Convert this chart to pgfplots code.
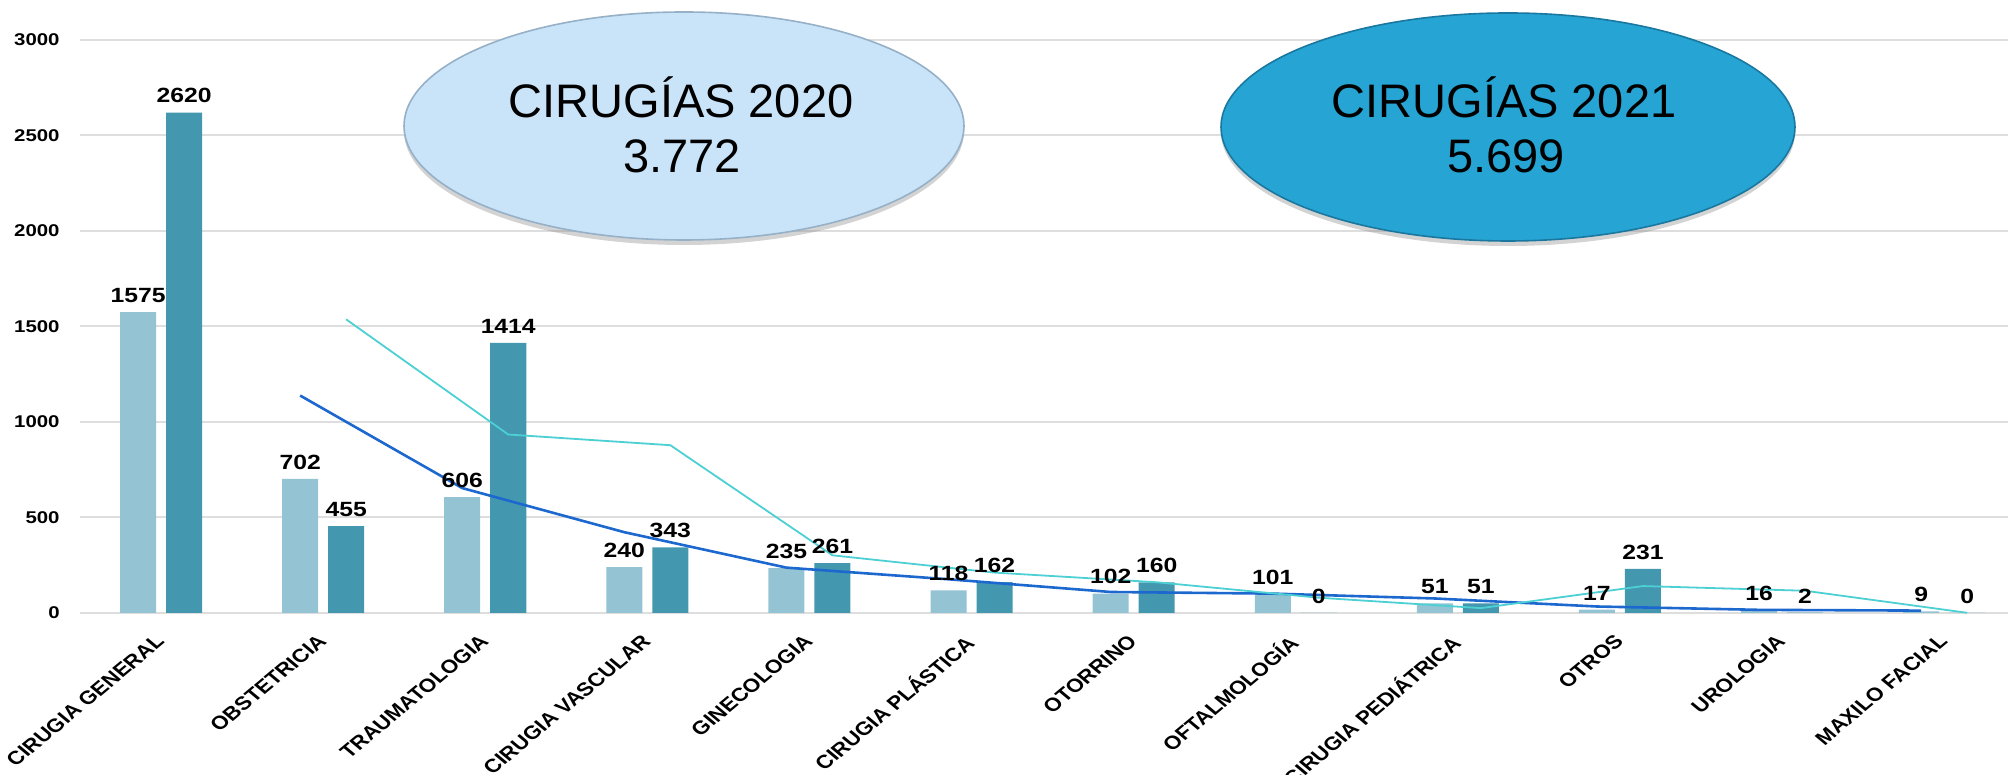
\documentclass[border=0pt]{standalone}
\usepackage{fontspec}
\setmainfont{Liberation Sans}[FakeStretch=1.2]
\newfontfamily\plainfont{Liberation Sans}
\usepackage{graphicx}
\usepackage{pgfplots}
\pgfplotsset{compat=1.18}
\usetikzlibrary{shadows}

\definecolor{bar20}{RGB}{148,195,212}
\definecolor{bar21}{RGB}{67,152,176}
\definecolor{ma20}{RGB}{28,104,206}
\definecolor{ma21}{RGB}{77,208,212}
\definecolor{gridc}{RGB}{222,222,222}
\definecolor{ell20}{RGB}{201,227,248}
\definecolor{ell20e}{RGB}{150,176,200}
\definecolor{ell21}{RGB}{38,164,211}
\definecolor{ell21e}{RGB}{26,120,160}

% rotated 45 deg, then stretched like the source picture
\newcommand\xl[1]{\scalebox{1.2}[1]{\rotatebox{45}{#1}}}

\begin{document}
\begin{tikzpicture}
% page: 2008 x 775 px at 0.5pt per px
\useasboundingbox (0,0) rectangle (1004pt,387.5pt);

\begin{axis}[
  at={(40pt,81pt)}, anchor=south west,
  scale only axis, width=964pt, height=286.5pt,
  xmin=-0.5, xmax=11.394, ymin=0, ymax=3000,
  clip=false,
  axis line style={draw=none},
  tick style={draw=none},
  ymajorgrids, grid style={gridc, line width=1pt},
  ytick={0,500,...,3000},
  xtick={0,...,11},
  xticklabels={\xl{CIRUGIA GENERAL}, \xl{OBSTETRICIA}, \xl{TRAUMATOLOGIA}, \xl{CIRUGIA VASCULAR}, \xl{GINECOLOGIA}, \xl{CIRUGIA PLÁSTICA}, \xl{OTORRINO}, \xl{OFTALMOLOGÍA}, \xl{CIRUGIA PEDIÁTRICA}, \xl{OTROS}, \xl{UROLOGIA}, \xl{MAXILO FACIAL}},
  /pgf/number format/assume math mode=true,
  /pgf/number format/1000 sep={},
  yticklabel style={font=\fontsize{8.5}{10}\selectfont\bfseries, anchor=east, inner sep=0pt, xshift=-10pt},
  xticklabel style={font=\plainfont\fontsize{9.4}{11}\selectfont\bfseries, anchor=north east, inner sep=0pt, xshift=2.5pt, yshift=-10pt},
  every node near coord/.append style={font=\fontsize{10.3}{12}\selectfont\bfseries, anchor=south, inner sep=0pt, yshift=4.5pt},
]
% 2020
\addplot[ybar, bar width=18pt, bar shift=-11.5pt, fill=bar20, draw=none, nodes near coords,
  every node near coord/.append style={xshift=-11.5pt}]
  coordinates {(0,1575) (1,702) (2,606) (3,240) (4,235) (5,118) (6,102) (7,101) (8,51) (9,17) (10,16) (11,9)};
% 2021
\addplot[ybar, bar width=18pt, bar shift=11.5pt, fill=bar21, draw=none, nodes near coords,
  every node near coord/.append style={xshift=11.5pt}]
  coordinates {(0,2620) (1,455) (2,1414) (3,343) (4,261) (5,162) (6,160) (7,0) (8,51) (9,231) (10,2) (11,0)};
% moving averages (2 periods)
\addplot[ma20, line width=1.3pt, xshift=-11.5pt]
  coordinates {(1,1138.5) (2,654) (3,423) (4,237.5) (5,176.5) (6,110) (7,101.5) (8,76) (9,34) (10,16.5) (11,12.5)};
\addplot[ma21, line width=0.9pt, xshift=11.5pt]
  coordinates {(1,1537.5) (2,934.5) (3,878.5) (4,302) (5,211.5) (6,161) (7,80) (8,25.5) (9,141) (10,116.5) (11,1)};
\end{axis}

\begin{scope}[shift={(0pt,387.5pt)}, x=0.5pt, y=-0.5pt]
  \fill[ell20, draw=ell20e, line width=0.8pt, drop shadow={shadow xshift=0pt, shadow yshift=-2.5pt, opacity=0.35}]
    (684,126) ellipse [x radius=280, y radius=114];
  \fill[ell21, draw=ell21e, line width=0.8pt, drop shadow={shadow xshift=0pt, shadow yshift=-2.5pt, opacity=0.35}]
    (1508,127) ellipse [x radius=287, y radius=114];
  \node[anchor=base, inner sep=0pt, font=\plainfont\fontsize{23.5}{27}\selectfont] at (681,118) {CIRUGÍAS 2020};
  \node[anchor=base, inner sep=0pt, font=\plainfont\fontsize{23.5}{27}\selectfont] at (682,173) {3.772};
  \node[anchor=base, inner sep=0pt, font=\plainfont\fontsize{23.5}{27}\selectfont] at (1504,118) {CIRUGÍAS 2021};
  \node[anchor=base, inner sep=0pt, font=\plainfont\fontsize{23.5}{27}\selectfont] at (1506,173) {5.699};
\end{scope}
\end{tikzpicture}
\end{document}
